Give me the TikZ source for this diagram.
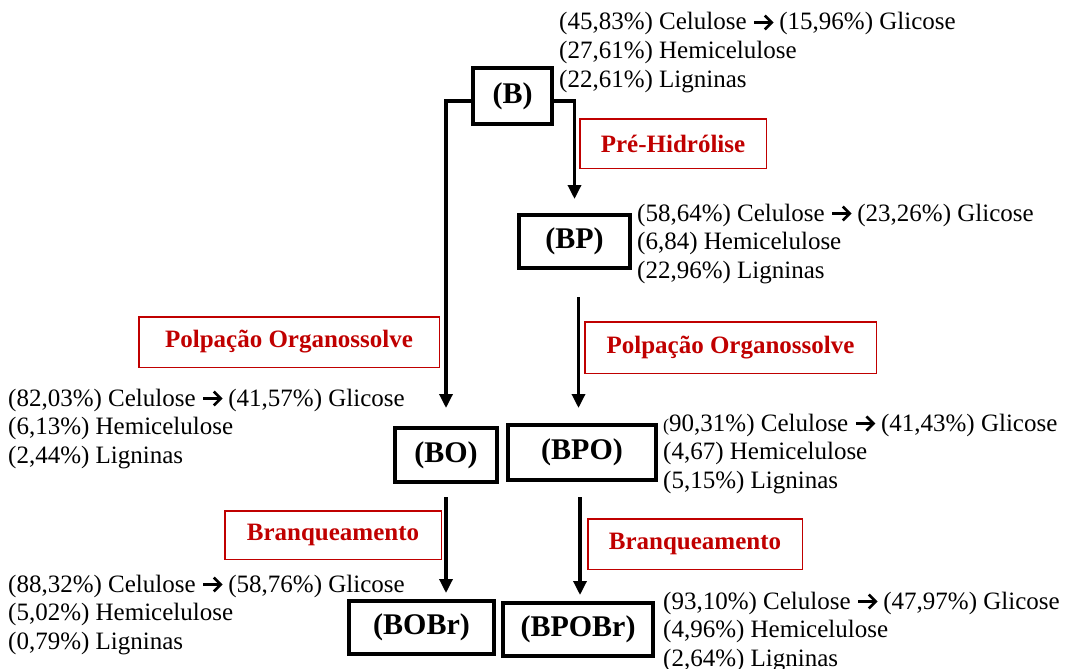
\documentclass[tikz,border=0pt]{standalone}
\usepackage{fontspec}
\setmainfont{Liberation Serif}
\usetikzlibrary{arrows.meta}
\definecolor{procred}{HTML}{C00000}

\tikzset{
  stage/.style={draw, line width=4pt, inner sep=0pt,
    font=\fontsize{30}{30}\selectfont\bfseries},
  process/.style={draw=procred, line width=1.5pt, text=procred, inner sep=0pt,
    font=\fontsize{25}{25}\selectfont\bfseries},
  info/.style={anchor=base west, inner sep=0pt, font=\fontsize{25}{29}\selectfont},
  flow/.style={line width=3.3pt, -{Triangle[length=14pt,width=13pt]}},
}

% bold reaction arrow (shaft with open chevron head) used inside the lists
\newcommand\goesto{\tikz[baseline=0pt]{%
  \draw[line width=2.7pt] (0.5pt,7.5pt) -- (18pt,7.5pt);
  \draw[line width=2.7pt, line join=miter] (11pt,14.5pt) -- (18pt,7.5pt) -- (11pt,0.5pt);}}

% three-line composition list: name, x, first baseline, lines
\newcommand\complist[6]{%
  \node[info] (#1-cel) at (#2,#3) {#4};
  \node[info] (#1-hem) at (#2,#3+28.7) {#5};
  \node[info] (#1-lig) at (#2,#3+57.4) {#6};
}

\begin{document}
\begin{tikzpicture}[x=1pt,y=-1pt]
\useasboundingbox (0,0) rectangle (1068,669);

% material stages
\node[stage, minimum width=79pt, minimum height=56pt]  (B)     at (512.5,96)    {(B)};
\node[stage, minimum width=111pt, minimum height=53pt] (BP)    at (574.5,241.5) {(BP)};
\node[stage, minimum width=102pt, minimum height=54pt] (BO)    at (446,455)     {(BO)};
\node[stage, minimum width=148pt, minimum height=55pt] (BPO)   at (582,452.5)   {(BPO)};
\node[stage, minimum width=145pt, minimum height=53pt] (BOBr)  at (421.5,627.5) {(BOBr)};
\node[stage, minimum width=150pt, minimum height=53pt] (BPOBr) at (578,629.5)   {(BPOBr)};

% process labels
\node[process, minimum width=186.5pt, minimum height=49.5pt] (pre)  at (673,143.5)   {Pré-Hidrólise};
\node[process, minimum width=300.5pt, minimum height=50.5pt] (polL) at (289,342)     {Polpação Organossolve};
\node[process, minimum width=291.5pt, minimum height=51.5pt] (polR) at (730.5,347.5) {Polpação Organossolve};
\node[process, minimum width=216.5pt, minimum height=48.5pt] (brL)  at (333,535)     {Branqueamento};
\node[process, minimum width=214.5pt, minimum height=50.5pt] (brR)  at (695,544)     {Branqueamento};

% compositions
\complist{cB}{559}{30}{(45,83\%) Celulose \goesto\ (15,96\%) Glicose}{(27,61\%) Hemicelulose}{(22,61\%) Ligninas}
\complist{cBP}{637}{221}{(58,64\%) Celulose \goesto\ (23,26\%) Glicose}{(6,84) Hemicelulose}{(22,96\%) Ligninas}
\complist{cBO}{8}{406}{(82,03\%) Celulose \goesto\ (41,57\%) Glicose}{(6,13\%) Hemicelulose}{(2,44\%) Ligninas}
\complist{cBPO}{663}{431}{{\fontsize{18}{18}\selectfont(}90,31\%) Celulose \goesto\ (41,43\%) Glicose}{(4,67) Hemicelulose}{(5,15\%) Ligninas}
\complist{cBOBr}{8}{592}{(88,32\%) Celulose \goesto\ (58,76\%) Glicose}{(5,02\%) Hemicelulose}{(0,79\%) Ligninas}
\complist{cBPOBr}{663}{609}{(93,10\%) Celulose \goesto\ (47,97\%) Glicose}{(4,96\%) Hemicelulose}{(2,64\%) Ligninas}

% flow connectors
\draw[flow, shorten >=18pt] ([yshift=-5pt]B.west) -| (BO.north);
\draw[flow, shorten >=14pt] ([yshift=-5pt]B.east) -| (BP.north);
\draw[flow, shorten <=27pt, shorten >=15pt]
  ([xshift=4pt]BP.south) -- ([xshift=4pt]BP.south |- BPO.north);
\draw[flow, shorten <=13pt, shorten >=6pt] (BO.south) -- (BO.south |- BOBr.north);
\draw[flow, shorten <=15pt, shorten >=6pt] ([xshift=-2pt]BPO.south) -- ([xshift=-2pt]BPO.south |- BPOBr.north);
\end{tikzpicture}
\end{document}
